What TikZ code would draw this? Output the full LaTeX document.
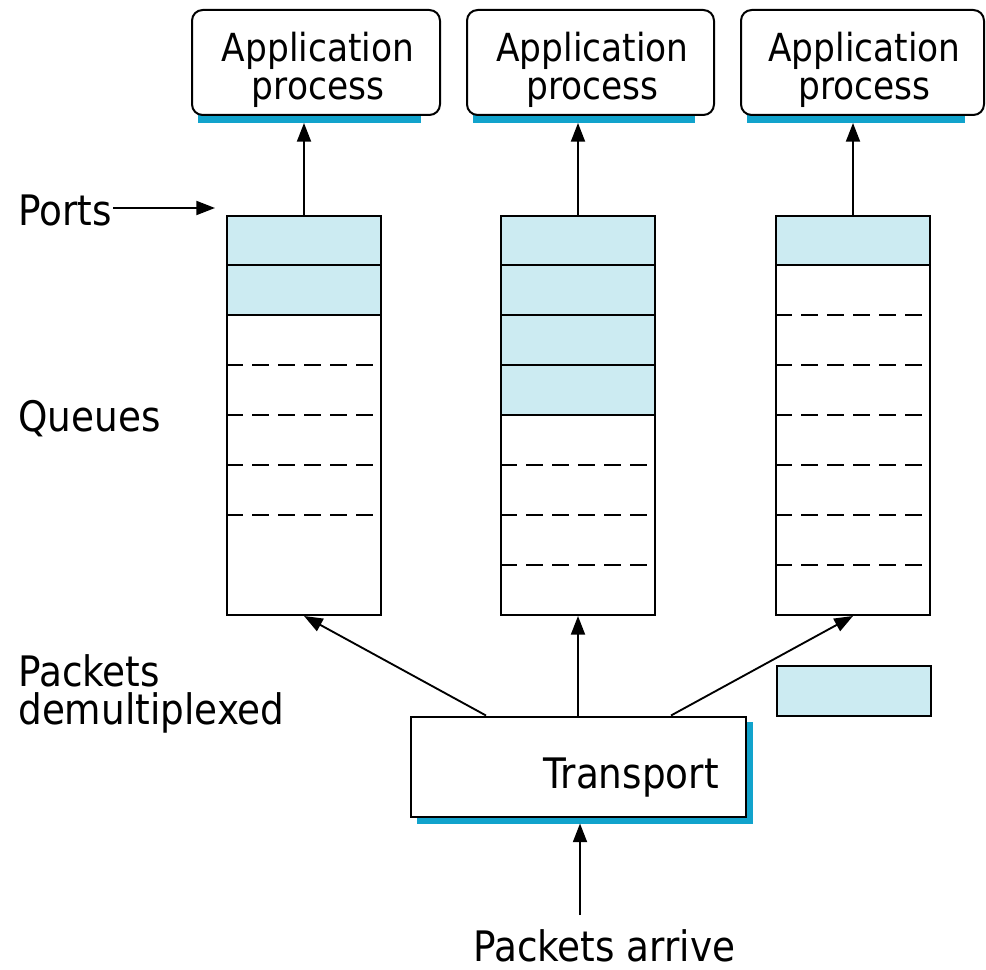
\documentclass[tikz,border=0pt]{standalone}
\usepackage{fontspec}
\setmainfont{DejaVu Sans}[FakeStretch=0.89]
\usetikzlibrary{arrows.meta,calc}
\pgfdeclarelayer{bg}
\pgfsetlayers{bg,main}
\definecolor{portfill}{RGB}{204,235,242}
\definecolor{shadowblue}{RGB}{17,163,204}
\tikzset{
  border/.style={draw=black, line width=1.5pt, inner sep=0pt},
  appbox/.style={border, fill=white, rounded corners=8pt, minimum height=105*0.75pt},
  queuebox/.style={border, minimum width=154*0.75pt, minimum height=399*0.75pt},
  transbox/.style={border, fill=white, minimum width=335*0.75pt, minimum height=100*0.75pt},
  pktbox/.style={border, fill=portfill, minimum width=154*0.75pt, minimum height=50*0.75pt},
  apptext/.style={inner sep=0pt, font=\fontsize{29pt}{29pt}\selectfont, anchor=base},
  lbl/.style={inner sep=0pt, font=\fontsize{31.5pt}{31.5pt}\selectfont, anchor=base west},
  arr/.style={line width=1.4pt, -{Triangle[length=14pt,width=10.5pt]}},
  rowline/.style={line width=1.4pt},
  dashline/.style={line width=1.3pt, dash pattern=on 12.5pt off 7pt},
}
\begin{document}
\begin{tikzpicture}[x=0.75pt,y=-0.75pt]
\useasboundingbox (0,0) rectangle (986,970);

% application processes
\node[appbox, minimum width=248*0.75pt] (a1) at (316,62.5) {};
\node[appbox, minimum width=247*0.75pt] (a2) at (590.5,62.5) {};
\node[appbox, minimum width=243*0.75pt] (a3) at (862.5,62.5) {};
\foreach \a in {a1,a2,a3}{
  \node[apptext] (\a l1) at ($(\a.center)+(2,-1)$) {Application};
  \node[apptext] (\a l2) at ($(\a.center)+(2,37.5)$) {process};
  \coordinate (\a s) at ($(\a.south)+(0,7)$);
  \begin{pgfonlayer}{bg}
    \fill[shadowblue] ($(\a.south west)+(7,-6)$) rectangle ($(\a.south east)+(-20,7)$);
  \end{pgfonlayer}
}

% queues
\node[queuebox] (q1) at (304,415.5) {};
\node[queuebox] (q2) at (578,415.5) {};
\node[queuebox] (q3) at (853,415.5) {};

\begin{pgfonlayer}{bg}
  \fill[portfill] (q1.north west) rectangle ($(q1.north east)+(0,100)$);
  \fill[portfill] (q2.north west) rectangle ($(q2.north east)+(0,200)$);
  \fill[portfill] (q3.north west) rectangle ($(q3.north east)+(0,50)$);
\end{pgfonlayer}

% occupied slots
\foreach \q/\n in {q1/2,q2/4,q3/1}{
  \foreach \k in {1,...,\n}{
    \draw[rowline] ($(\q.north west)+(0,50*\k)$) -- ($(\q.north east)+(0,50*\k)$);
  }
}
% empty slots
\foreach \q/\a/\b in {q1/3/6,q2/5/7,q3/2/7}{
  \foreach \k in {\a,...,\b}{
    \draw[dashline] ($(\q.north west)+(0,50*\k)$) -- ($(\q.north east)+(-6,50*\k)$);
  }
}

% transport
\node[transbox] (t) at (578.5,766.5) {};
\begin{pgfonlayer}{bg}
  \fill[shadowblue] ($(t.north west)+(7,6)$) rectangle ($(t.south east)+(6,6)$);
\end{pgfonlayer}
\node[lbl] (tl) at (543,788) {Transport};
\coordinate (ts) at ($(t.south)+(1.5,6)$);

% packet being delivered
\node[pktbox] (pk) at (853.5,691) {};

% labels
\node[lbl] (ports) at (18,226) {Ports};
\node[lbl] (queues) at (18,431) {Queues};
\node[lbl] (pd1) at (18,686) {Packets};
\node[lbl] (pd2) at (18,724) {demultiplexed};
\node[lbl] (pa) at (473,961) {Packets arrive};
\coordinate (portsTip) at (215,208);
\coordinate (in0) at (580,915);

% connectors
\draw[arr] (113,208) -- (portsTip);
\draw[arr] (q1.north) -- (q1.north |- a1s);
\draw[arr] (q2.north) -- (q2.north |- a2s);
\draw[arr] (q3.north) -- (q3.north |- a3s);
\draw[arr] ($(t.north west)+(76,0)$) -- (q1.south);
\draw[arr] (q2.south |- t.north) -- (q2.south);
\draw[arr] ($(t.north east)+(-76,0)$) -- (q3.south);
\draw[arr] (in0) -- (in0 |- ts);
\end{tikzpicture}
\end{document}
